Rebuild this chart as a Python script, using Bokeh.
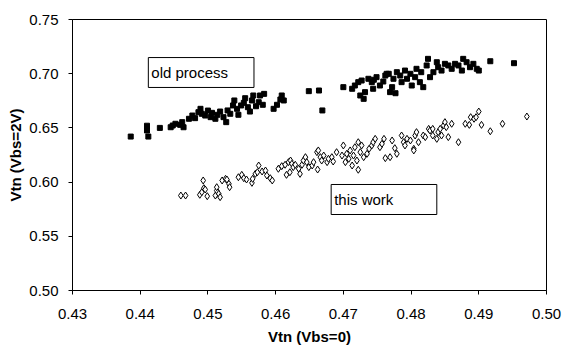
from bokeh.plotting import figure
from bokeh.models import FixedTicker, NumeralTickFormatter, BoxAnnotation, Label, Range1d
from bokeh.embed import file_html
from bokeh.resources import INLINE

# ---- data ----
old_x = [0.4386, 0.4410, 0.4410, 0.4412, 0.4429, 0.4445, 0.4448, 0.4452, 0.4459, 0.4462,
         0.4464, 0.4472, 0.4477, 0.4481, 0.4486, 0.4489, 0.4491, 0.4496, 0.4500, 0.4504,
         0.4506, 0.4511, 0.4514, 0.4518, 0.4523, 0.4527, 0.4529, 0.4533, 0.4537, 0.4539,
         0.4543, 0.4545, 0.4549, 0.4553, 0.4555, 0.4559, 0.4562, 0.4565, 0.4567, 0.4571,
         0.4575, 0.4577, 0.4581, 0.4583, 0.4597, 0.4602, 0.4607, 0.4612, 0.4609, 0.4649,
         0.4664, 0.4669, 0.4700, 0.4713, 0.4717, 0.4722, 0.4727, 0.4725, 0.4730, 0.4732,
         0.4737, 0.4742, 0.4744, 0.4749, 0.4754, 0.4759, 0.4762, 0.4767, 0.4769, 0.4772,
         0.4774, 0.4779, 0.4784, 0.4786, 0.4791, 0.4794, 0.4799, 0.4801, 0.4806, 0.4808,
         0.4813, 0.4815, 0.4818, 0.4823, 0.4825, 0.4828, 0.4833, 0.4838, 0.4840, 0.4845,
         0.4850, 0.4855, 0.4860, 0.4865, 0.4870, 0.4875, 0.4877, 0.4882, 0.4887, 0.4892,
         0.4897, 0.4900, 0.4917, 0.4952, 0.4777, 0.4745, 0.4764]
old_y = [0.6420, 0.6520, 0.6476, 0.6420, 0.6500, 0.6506, 0.6522, 0.6538, 0.6528, 0.6553,
         0.6506, 0.6584, 0.6614, 0.6590, 0.6645, 0.6676, 0.6630, 0.6614, 0.6660, 0.6599,
         0.6639, 0.6584, 0.6621, 0.6651, 0.6599, 0.6553, 0.6661, 0.6630, 0.6707, 0.6753,
         0.6676, 0.6621, 0.6707, 0.6731, 0.6774, 0.6691, 0.6651, 0.6753, 0.6799, 0.6700,
         0.6737, 0.6799, 0.6713, 0.6814, 0.6676, 0.6713, 0.6762, 0.6753, 0.6799, 0.6839,
         0.6845, 0.6661, 0.6876, 0.6861, 0.6891, 0.6922, 0.6937, 0.6799, 0.6768, 0.6830,
         0.6953, 0.6922, 0.6861, 0.6968, 0.6891, 0.6928, 0.6983, 0.6999, 0.6830, 0.6876,
         0.6953, 0.7014, 0.6983, 0.6922, 0.7029, 0.6953, 0.6999, 0.6891, 0.6968, 0.7045,
         0.6922, 0.7014, 0.6876, 0.7076, 0.7137, 0.6968, 0.7014, 0.7106, 0.7060, 0.7029,
         0.7091, 0.7076, 0.7045, 0.7091, 0.7076, 0.7029, 0.7137, 0.7106, 0.7060, 0.7091,
         0.7045, 0.7029, 0.7115, 0.7097, 0.6820, 0.6944, 0.6999]

new_x = [0.4460, 0.4467, 0.4488, 0.4491, 0.4494, 0.4493, 0.4496, 0.4499, 0.4511, 0.4513,
         0.4516, 0.4518, 0.4513, 0.4521, 0.4526, 0.4531, 0.4532, 0.4528, 0.4545, 0.4550,
         0.4553, 0.4557, 0.4565, 0.4566, 0.4570, 0.4573, 0.4575, 0.4580, 0.4585, 0.4587,
         0.4592, 0.4595, 0.4604, 0.4609, 0.4614, 0.4619, 0.4622, 0.4624, 0.4616, 0.4621,
         0.4626, 0.4629, 0.4634, 0.4636, 0.4639, 0.4641, 0.4644, 0.4646, 0.4649, 0.4654,
         0.4656, 0.4661, 0.4663, 0.4666, 0.4668, 0.4671, 0.4676, 0.4678, 0.4683, 0.4685,
         0.4690, 0.4698, 0.4700, 0.4703, 0.4705, 0.4708, 0.4710, 0.4713, 0.4715, 0.4717,
         0.4720, 0.4722, 0.4725, 0.4727, 0.4730, 0.4735, 0.4738, 0.4742, 0.4744, 0.4747,
         0.4754, 0.4757, 0.4760, 0.4762, 0.4769, 0.4772, 0.4776, 0.4779, 0.4786, 0.4789,
         0.4791, 0.4794, 0.4799, 0.4804, 0.4806, 0.4808, 0.4811, 0.4818, 0.4821, 0.4826,
         0.4828, 0.4832, 0.4832, 0.4838, 0.4840, 0.4843, 0.4845, 0.4848, 0.4850, 0.4852,
         0.4855, 0.4860, 0.4870, 0.4880, 0.4886, 0.4888, 0.4893, 0.4896, 0.4900, 0.4904,
         0.4917, 0.4935, 0.4971, 0.4722, 0.4804, 0.4662]
new_y = [0.5876, 0.5876, 0.5883, 0.5907, 0.5944, 0.6015, 0.5932, 0.5870, 0.5876, 0.5922,
         0.5892, 0.5861, 0.5953, 0.6015, 0.6030, 0.5984, 0.5953, 0.6024, 0.6045, 0.6067,
         0.6036, 0.6024, 0.5993, 0.6030, 0.6076, 0.6091, 0.6153, 0.6098, 0.6107, 0.6061,
         0.6036, 0.6015, 0.6123, 0.6147, 0.6160, 0.6184, 0.6199, 0.6169, 0.6067, 0.6091,
         0.6138, 0.6160, 0.6123, 0.6076, 0.6160, 0.6199, 0.6230, 0.6184, 0.6138, 0.6153,
         0.6184, 0.6276, 0.6292, 0.6230, 0.6199, 0.6245, 0.6184, 0.6215, 0.6230, 0.6190,
         0.6276, 0.6245, 0.6338, 0.6184, 0.6261, 0.6215, 0.6292, 0.6153, 0.6245, 0.6322,
         0.6199, 0.6368, 0.6276, 0.6338, 0.6230, 0.6261, 0.6307, 0.6338, 0.6368, 0.6399,
         0.6322, 0.6353, 0.6399, 0.6221, 0.6230, 0.6384, 0.6313, 0.6261, 0.6430, 0.6368,
         0.6338, 0.6399, 0.6384, 0.6307, 0.6430, 0.6461, 0.6368, 0.6430, 0.6415, 0.6491,
         0.6476, 0.6430, 0.6491, 0.6399, 0.6461, 0.6491, 0.6430, 0.6522, 0.6553, 0.6507,
         0.6415, 0.6538, 0.6368, 0.6538, 0.6528, 0.6599, 0.6584, 0.6599, 0.6651, 0.6528,
         0.6469, 0.6538, 0.6605, 0.6114, 0.6292, 0.6116]

x_ticks = [0.43, 0.44, 0.45, 0.46, 0.47, 0.48, 0.49, 0.50]
y_ticks = [0.50, 0.55, 0.60, 0.65, 0.70, 0.75]
series_names = ["old process", "this work"]
x_title = "Vtn (Vbs=0)"
y_title = "Vtn (Vbs=2V)"

FONT = "Liberation Sans"

p = figure(width=564, height=348, output_backend="svg", toolbar_location=None,
           x_range=Range1d(0.43, 0.50), y_range=Range1d(0.50, 0.75),
           min_border_left=72, min_border_right=18, min_border_top=19, min_border_bottom=58)
p.background_fill_color = "white"
p.border_fill_color = "white"
p.outline_line_color = "black"
p.outline_line_width = 1
p.xgrid.visible = False
p.ygrid.visible = False

p.scatter(old_x, old_y, marker="square", size=5, fill_color="black", line_color="black")
p.scatter(new_x, new_y, marker="diamond", size=7, fill_color="white", line_color="black",
          line_width=1)

for ax, ticks in ((p.xaxis[0], x_ticks), (p.yaxis[0], y_ticks)):
    ax.ticker = FixedTicker(ticks=ticks)
    ax.formatter = NumeralTickFormatter(format="0.00")
    ax.minor_tick_line_color = None
    ax.major_tick_in = 0
    ax.major_tick_out = 4
    ax.axis_line_color = "black"
    ax.major_tick_line_color = "black"
    ax.major_label_text_font = FONT
    ax.major_label_text_font_size = "15px"
    ax.major_label_text_color = "black"
    ax.axis_label_text_font = FONT
    ax.axis_label_text_font_size = "15px"
    ax.axis_label_text_font_style = "bold"
    ax.axis_label_text_color = "black"

p.xaxis.axis_label = x_title
p.yaxis.axis_label = y_title
p.xaxis.major_label_standoff = 14
p.xaxis.axis_label_standoff = 6
p.yaxis.major_label_standoff = 10
p.yaxis.axis_label_standoff = 2

boxes = [(0.4412, 0.4568, 0.6873, 0.7149), (0.4682, 0.4838, 0.5701, 0.5978)]
for name, (l, r, b, t) in zip(series_names, boxes):
    p.add_layout(BoxAnnotation(left=l, right=r, bottom=b, top=t, fill_color="white",
                               fill_alpha=1, line_color="black", line_width=1, line_alpha=1))
    p.add_layout(Label(x=l, y=(b + t) / 2, text=name, x_offset=3, text_baseline="middle",
                       text_font=FONT, text_font_size="15px", text_color="black"))

open("out.html", "w").write(file_html(p, INLINE))
